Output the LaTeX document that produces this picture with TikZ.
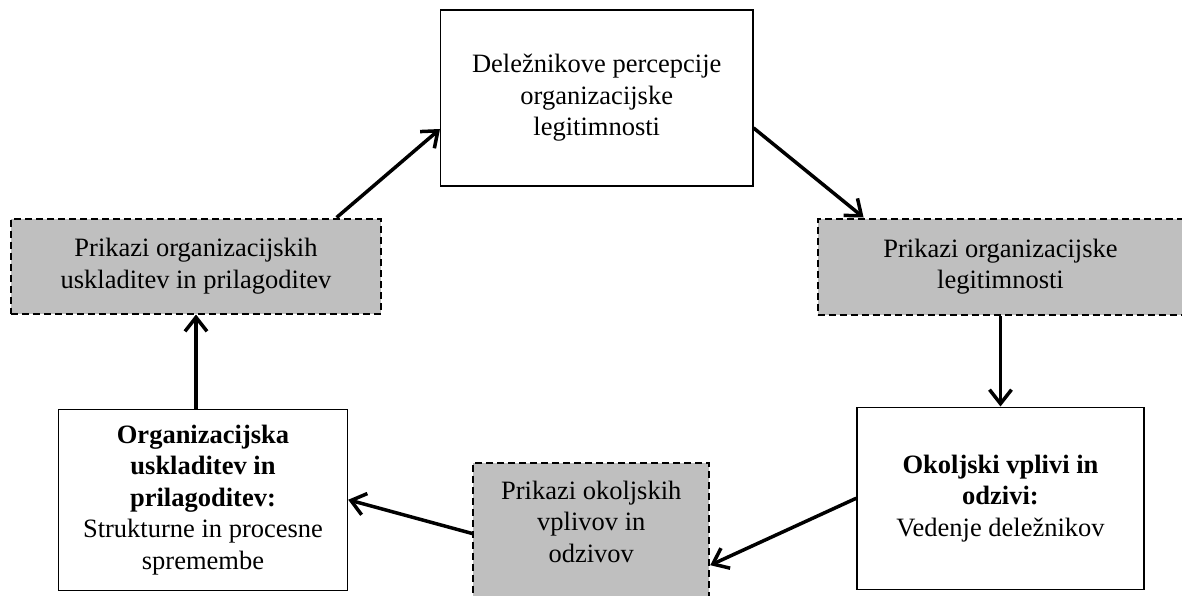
\documentclass[tikz,border=0pt]{standalone}
\usepackage{fontspec}
\setmainfont{Liberation Serif}
\definecolor{shadegray}{RGB}{191,191,191}
\usepackage{tikz}
\usetikzlibrary{arrows.meta, positioning, calc}

\begin{document}
\begin{tikzpicture}[
  card/.style={draw, line width=1.5pt, fill=white, align=center, font=\fontsize{26.5pt}{31.5pt}\selectfont},
  shown/.style={draw, line width=2pt, dash pattern=on 7pt off 4pt, fill=shadegray, align=center, font=\fontsize{26.5pt}{31.5pt}\selectfont},
  link/.style={-{Straight Barb[length=14pt, width=22pt]}, line width=3.5pt},
]
  \node[card, minimum width=312pt, minimum height=176pt] (t) {Deležnikove percepcije\\organizacijske\\legitimnosti};
  \useasboundingbox ($(t.north west)+(-440pt,9pt)$) rectangle ($(t.north west)+(742pt,-586pt)$);

  \node[shown, minimum width=370pt, minimum height=95pt, below left=31pt and 58pt of t.south west] (lg) {Prikazi organizacijskih\\uskladitev in prilagoditev};
  \node[shown, minimum width=366pt, minimum height=96pt, below right=31pt and 63pt of t.south east] (rg) {Prikazi organizacijske\\legitimnosti};
  \node[card, minimum width=287pt, minimum height=182pt, below=91pt of rg] (br) {\textbf{Okoljski vplivi in}\\\textbf{odzivi:}\\Vedenje deležnikov};
  \node[card, minimum width=289pt, minimum height=181pt, below=94pt of lg, xshift=7pt] (bl) {\textbf{Organizacijska}\\\textbf{uskladitev in}\\\textbf{prilagoditev:}\\Strukturne in procesne\\spremembe};
  \node[shown, minimum width=236pt, minimum height=142pt, text depth=24pt, anchor=north west] (mg) at ($(bl.north east)+(124pt,-53pt)$) {Prikazi okoljskih\\vplivov in\\odzivov};

  \draw[link] ($(lg.north west)!0.878!(lg.north east)$) -- ($(t.north west)!0.676!(t.south west)$);
  \draw[link] ($(t.north east)!0.67!(t.south east)$) -- ($(rg.north west)!0.128!(rg.north east)$);
  \draw[link] (rg.south) -- (br.north);
  \draw[link] (br.west) -- ($(mg.north east)!0.72!(mg.south east)$);
  \draw[link] (mg.west) -- (bl.east);
  \draw[link] (lg.south |- bl.north) -- (lg.south);
\end{tikzpicture}
\end{document}
